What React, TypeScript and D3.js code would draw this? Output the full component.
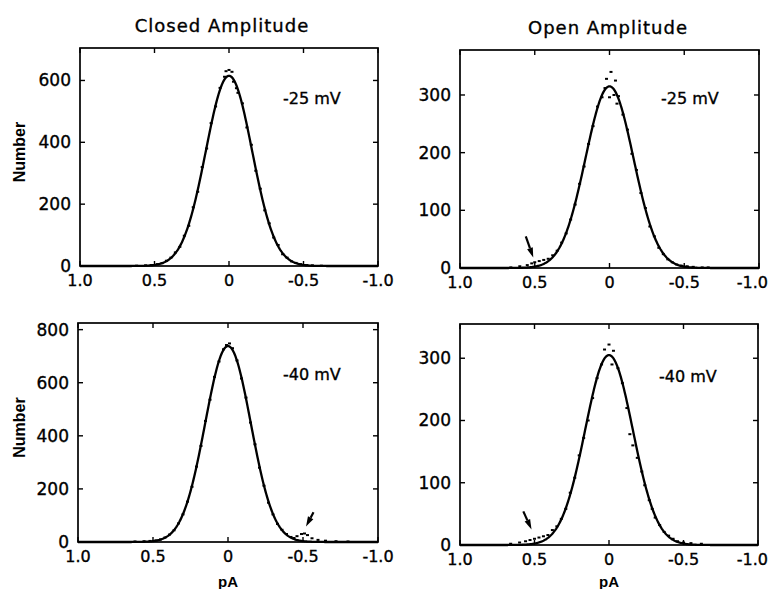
import React from "react";
import * as d3 from "d3";

// ---------- data ----------
const xTicks = [1.0, 0.5, 0, -0.5, -1.0];
const xTickLabels = ["1.0", "0.5", "0", "-0.5", "-1.0"];

const titles = ["Closed Amplitude", "Open Amplitude"];
const voltages = ["-25 mV", "-25 mV", "-40 mV", "-40 mV"];

// fitted gaussian parameters [amplitude, mean, sigma]
const fitTL = [615, 0.0, 0.155];
const fitTR = [315, 0.0, 0.16];
const fitBL = [738, 0.0, 0.152];
const fitBR = [305, 0.0, 0.16];

const yTicksTL = [0, 200, 400, 600];
const yTicksTR = [0, 100, 200, 300];
const yTicksBL = [0, 200, 400, 600, 800];
const yTicksBR = [0, 100, 200, 300];

const yMaxTL = 705;
const yMaxTR = 378;
const yMaxBL = 825;
const yMaxBR = 355;

// histogram points [pA, number]
const ptsTL: [number, number][] = [
  [0.62, 1], [0.56, 2], [0.52, 3], [0.48, 6], [0.45, 9], [0.42, 17], [0.39, 27], [0.36, 44],
  [0.33, 62], [0.3, 98], [0.27, 130], [0.24, 190], [0.21, 240], [0.18, 320], [0.15, 380],
  [0.12, 462], [0.09, 516], [0.06, 576], [0.03, 612], [0.02, 630], [0.0, 634], [-0.02, 628],
  [-0.03, 596], [-0.05, 575], [-0.06, 560], [-0.09, 526], [-0.12, 448], [-0.15, 392],
  [-0.18, 308], [-0.21, 250], [-0.24, 180], [-0.27, 138], [-0.3, 92], [-0.33, 68],
  [-0.36, 38], [-0.39, 27], [-0.42, 15], [-0.45, 10], [-0.48, 6], [-0.52, 3], [-0.56, 2], [-0.62, 1],
];
const ptsTR: [number, number][] = [
  [0.66, 1], [0.6, 3], [0.55, 5], [0.52, 8], [0.5, 10], [0.47, 12], [0.44, 14], [0.41, 16],
  [0.38, 22], [0.35, 30], [0.32, 44], [0.29, 60], [0.26, 84], [0.23, 110], [0.2, 146],
  [0.17, 176], [0.14, 215], [0.11, 246], [0.08, 280], [0.05, 296], [0.03, 312], [0.02, 328],
  [0.0, 296], [-0.01, 340], [-0.03, 300], [-0.04, 325], [-0.05, 285], [-0.06, 298],
  [-0.09, 266], [-0.12, 240], [-0.15, 198], [-0.18, 170], [-0.21, 130], [-0.24, 104],
  [-0.27, 72], [-0.3, 55], [-0.33, 35], [-0.36, 24], [-0.39, 15], [-0.42, 10], [-0.45, 6],
  [-0.48, 4], [-0.52, 3], [-0.56, 2], [-0.62, 1], [-0.66, 1],
];
const ptsBL: [number, number][] = [
  [0.62, 2], [0.56, 3], [0.52, 4], [0.48, 6], [0.45, 10], [0.42, 17], [0.39, 28], [0.36, 44],
  [0.33, 70], [0.3, 104], [0.27, 152], [0.24, 208], [0.21, 284], [0.18, 362], [0.15, 456],
  [0.12, 536], [0.09, 622], [0.06, 680], [0.03, 726], [0.01, 742], [-0.01, 748], [-0.03, 730],
  [-0.06, 684], [-0.09, 616], [-0.12, 544], [-0.15, 450], [-0.18, 368], [-0.21, 280],
  [-0.24, 212], [-0.27, 148], [-0.3, 104], [-0.33, 68], [-0.36, 46], [-0.39, 30], [-0.42, 19],
  [-0.44, 15], [-0.46, 22], [-0.49, 30], [-0.51, 32], [-0.53, 26], [-0.56, 14], [-0.6, 8],
  [-0.65, 5], [-0.72, 3], [-0.8, 2],
];
const ptsBR: [number, number][] = [
  [0.66, 2], [0.6, 4], [0.56, 6], [0.53, 8], [0.5, 10], [0.47, 12], [0.44, 14], [0.41, 16],
  [0.38, 24], [0.35, 30], [0.32, 42], [0.29, 58], [0.26, 84], [0.23, 108], [0.2, 144],
  [0.17, 172], [0.14, 200], [0.11, 236], [0.08, 268], [0.05, 290], [0.03, 314], [0.0, 322],
  [-0.02, 290], [-0.03, 312], [-0.06, 284], [-0.09, 260], [-0.12, 220], [-0.14, 178],
  [-0.16, 160], [-0.19, 140], [-0.22, 118], [-0.24, 96], [-0.27, 72], [-0.29, 58],
  [-0.31, 44], [-0.34, 32], [-0.37, 21], [-0.4, 15], [-0.43, 10], [-0.46, 6], [-0.5, 4],
  [-0.55, 3], [-0.62, 2],
];

// arrows [x1, y1, x2(tip), y2(tip)] in data units
const arrowTR = [0.56, 55, 0.51, 18];
const arrowBL = [-0.57, 112, -0.52, 58];
const arrowBR = [0.575, 54, 0.52, 25];

// ---------- layout ----------
const panels = [
  { x0: 80, x1: 378, y0: 48, y1: 266, yMax: yMaxTL, yTicks: yTicksTL, fit: fitTL, pts: ptsTL, label: voltages[0], lx: 283, ly: 104, arrow: null as number[] | null, number: true },
  { x0: 460, x1: 759, y0: 50, y1: 268, yMax: yMaxTR, yTicks: yTicksTR, fit: fitTR, pts: ptsTR, label: voltages[1], lx: 661, ly: 104, arrow: arrowTR, number: false },
  { x0: 78, x1: 378, y0: 323, y1: 542, yMax: yMaxBL, yTicks: yTicksBL, fit: fitBL, pts: ptsBL, label: voltages[2], lx: 283, ly: 380, arrow: arrowBL, number: true },
  { x0: 460, x1: 758, y0: 324, y1: 545, yMax: yMaxBR, yTicks: yTicksBR, fit: fitBR, pts: ptsBR, label: voltages[3], lx: 659, ly: 382, arrow: arrowBR, number: false },
];

const FONT = "DejaVu Sans, sans-serif";
const TXT = { fontFamily: FONT, fill: "#000", stroke: "#000", strokeWidth: 0.35 };
const W = 769;

function Panel({ p, idx }: { p: typeof panels[number]; idx: number }) {
  const x = d3.scaleLinear().domain([1, -1]).range([p.x0, p.x1]);
  const y = d3.scaleLinear().domain([0, p.yMax]).range([p.y1, p.y0]);
  const [A, mu, s] = p.fit;
  const xs = d3.range(1, -1.0001, -0.005);
  const line = d3
    .line<number>()
    .x((v) => x(v))
    .y((v) => y(A * Math.exp(-((v - mu) * (v - mu)) / (2 * s * s))))
    .curve(d3.curveLinear);
  const tl = 5;
  const bottom = idx >= 2;
  let arrowEl: React.ReactNode = null;
  if (p.arrow) {
    const [ax1, ay1, ax2, ay2] = p.arrow;
    const X1 = x(ax1), Y1 = y(ay1), X2 = x(ax2), Y2 = y(ay2);
    const dx = X2 - X1, dy = Y2 - Y1;
    const L = Math.hypot(dx, dy);
    const ux = dx / L, uy = dy / L;
    const hl = 10, hw = 3;
    const bx = X2 - ux * hl, by = Y2 - uy * hl;
    const pts = `${X2},${Y2} ${bx - uy * hw},${by + ux * hw} ${bx + uy * hw},${by - ux * hw}`;
    arrowEl = (
      <g>
        <line x1={X1} y1={Y1} x2={bx} y2={by} stroke="#000" strokeWidth={2.2} />
        <polygon points={pts} fill="#000" />
      </g>
    );
  }
  return (
    <g>
      <rect x={p.x0} y={p.y0} width={p.x1 - p.x0} height={p.y1 - p.y0} fill="none" stroke="#000" strokeWidth={1.7} />
      {xTicks.map((t, i) => {
        const cx = x(t);
        const nearEdge = cx + 15 > W;
        return (
          <g key={"xt" + i}>
            <line x1={cx} x2={cx} y1={p.y1} y2={p.y1 - tl} stroke="#000" strokeWidth={1.4} />
            <line x1={cx} x2={cx} y1={p.y0} y2={p.y0 + tl} stroke="#000" strokeWidth={1.4} />
            <text
              x={nearEdge ? W - 1 : cx}
              y={p.y1 + 20}
              textAnchor={nearEdge ? "end" : "middle"}
              fontSize={16}
              {...TXT}
            >
              {xTickLabels[i]}
            </text>
          </g>
        );
      })}
      {p.yTicks.map((t, i) => (
        <g key={"yt" + i}>
          <line x1={p.x0} x2={p.x0 + tl} y1={y(t)} y2={y(t)} stroke="#000" strokeWidth={1.4} />
          <line x1={p.x1} x2={p.x1 - tl} y1={y(t)} y2={y(t)} stroke="#000" strokeWidth={1.4} />
          <text x={p.x0 - 9} y={y(t) + 6} textAnchor="end" fontSize={17} {...TXT}>
            {t}
          </text>
        </g>
      ))}
      <path d={line(xs) || ""} fill="none" stroke="#000" strokeWidth={2.3} />
      {p.pts.map((d, i) => (
        <rect key={"pt" + i} x={x(d[0]) - 1.5} y={y(d[1]) - 1} width={3} height={2} fill="#000" />
      ))}
      {arrowEl}
      <text x={p.lx} y={p.ly} fontSize={16} {...TXT}>
        {p.label}
      </text>
      {p.number && (
        <text
          transform={`translate(25,${(p.y0 + p.y1) / 2 - 5}) rotate(-90)`}
          textAnchor="middle"
          fontFamily="Liberation Sans, Arial, sans-serif"
          fontWeight="bold"
          fontSize={16}
          fill="#000"
        >
          Number
        </text>
      )}
      {bottom && (
        <text x={(p.x0 + p.x1) / 2} y={587} textAnchor="middle" fontFamily="Liberation Sans, Arial, sans-serif" fontWeight="bold" fontSize={15} fill="#000">
          pA
        </text>
      )}
    </g>
  );
}

export default function App() {
  return (
    <svg width={769} height={589} style={{ position: "absolute", left: 0, top: 0, background: "#fff" }}>
      <rect width={769} height={589} fill="#fff" />
      <text x={222} y={32} textAnchor="middle" fontSize={18} letterSpacing={1} {...TXT}>
        {titles[0]}
      </text>
      <text x={608} y={34} textAnchor="middle" fontSize={18} letterSpacing={1} {...TXT}>
        {titles[1]}
      </text>
      {panels.map((p, i) => (
        <Panel key={i} p={p} idx={i} />
      ))}
    </svg>
  );
}
